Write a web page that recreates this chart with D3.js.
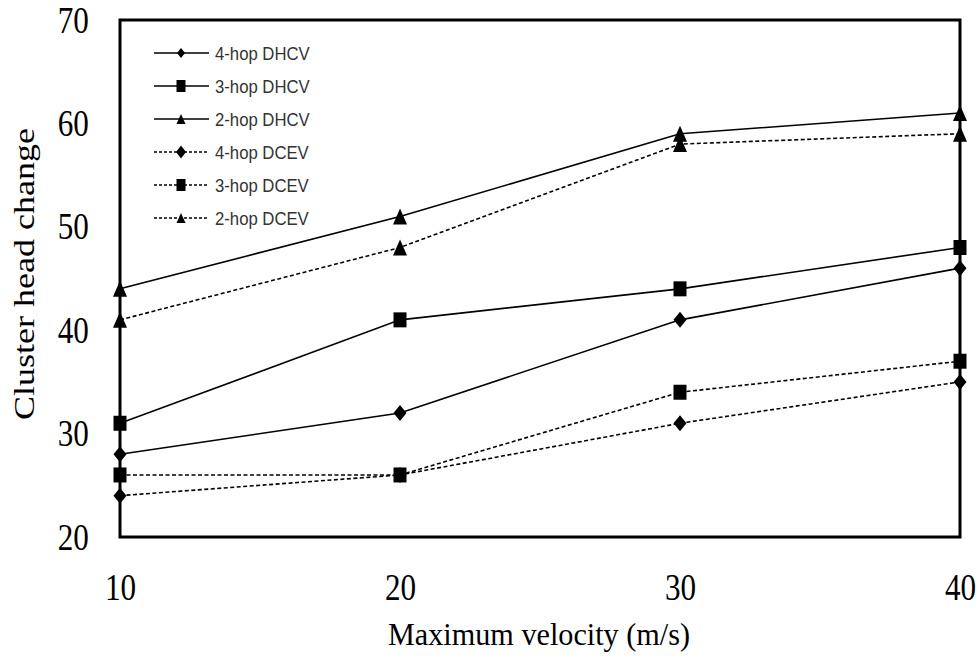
<!DOCTYPE html>
<html>
<head>
<meta charset="utf-8">
<script src="https://cdn.jsdelivr.net/npm/d3@7"></script>
<style>
  body { margin: 0; background: #fff; }
  svg { display: block; }
</style>
</head>
<body>
<svg id="chart"></svg>
<script>
// values
const velocities = [10, 20, 30, 40];
const hop4DHCV = [28, 32, 41, 46];
const hop3DHCV = [31, 41, 44, 48];
const hop2DHCV = [44, 51, 59, 61];
const hop4DCEV = [24, 26, 31, 35];
const hop3DCEV = [26, 26, 34, 37];
const hop2DCEV = [41, 48, 58, 59];
const xTicks = [10, 20, 30, 40];
const yTicks = [20, 30, 40, 50, 60, 70];

const series = [
  { name: "4-hop DHCV", values: hop4DHCV, dashed: false, marker: "diamond" },
  { name: "3-hop DHCV", values: hop3DHCV, dashed: false, marker: "square" },
  { name: "2-hop DHCV", values: hop2DHCV, dashed: false, marker: "triangle" },
  { name: "4-hop DCEV", values: hop4DCEV, dashed: true, marker: "diamond" },
  { name: "3-hop DCEV", values: hop3DCEV, dashed: true, marker: "square" },
  { name: "2-hop DCEV", values: hop2DCEV, dashed: true, marker: "triangle" }
];

const width = 980, height = 657;
const margin = { top: 20, right: 20, bottom: 120, left: 120 };

const svg = d3.select("#chart").attr("width", width).attr("height", height);

const x = d3.scaleLinear().domain([10, 40]).range([margin.left, width - margin.right]);
const y = d3.scaleLinear().domain([20, 70]).range([height - margin.bottom, margin.top]);

// marker shapes, w x h
function markerPath(type, w, h) {
  const a = w / 2, b = h / 2;
  if (type === "diamond") return `M0,${-b}L${a},0L0,${b}L${-a},0Z`;
  if (type === "square") return `M${-a},${-b}H${a}V${b}H${-a}Z`;
  return `M0,${-b}L${a},${b}L${-a},${b}Z`;
}
const markerSize = { diamond: [13, 16], square: [13, 15], triangle: [14, 16] };
const legendSize = {
  diamond: [[8, 10], [10, 13]],
  square: [[9, 12], [9, 12]],
  triangle: [[9, 10], [9, 10]]
};

// y axis
const yAxis = svg.append("g")
  .attr("transform", `translate(${margin.left},0)`)
  .call(d3.axisLeft(y).tickValues(yTicks).tickSize(0).tickPadding(38));
yAxis.select(".domain").remove();
yAxis.selectAll("text")
  .attr("font-family", "'Liberation Serif', 'Times New Roman', serif")
  .attr("font-size", 38)
  .attr("fill", "#000")
  .attr("transform", "scale(0.82,1)");

// x axis
const xAxis = svg.append("g")
  .attr("transform", `translate(0,${height - margin.bottom})`)
  .call(d3.axisBottom(x).tickValues(xTicks).tickSize(0).tickPadding(36));
xAxis.select(".domain").remove();
xAxis.selectAll("text")
  .attr("font-family", "'Liberation Serif', 'Times New Roman', serif")
  .attr("font-size", 38)
  .attr("fill", "#000")
  .attr("transform", "scale(0.82,1)");

// axis titles
svg.append("text")
  .attr("x", 539).attr("y", 645)
  .attr("text-anchor", "middle")
  .attr("font-family", "'Liberation Serif', 'Times New Roman', serif")
  .attr("font-size", 31)
  .attr("textLength", 302)
  .attr("lengthAdjust", "spacingAndGlyphs")
  .text("Maximum velocity (m/s)");

svg.append("text")
  .attr("transform", "translate(34,274) rotate(-90)")
  .attr("text-anchor", "middle")
  .attr("font-family", "'Liberation Serif', 'Times New Roman', serif")
  .attr("font-size", 30)
  .attr("textLength", 292)
  .attr("lengthAdjust", "spacingAndGlyphs")
  .text("Cluster head change");

// lines
const line = d3.line()
  .x((d, i) => x(velocities[i]))
  .y(d => y(d));

svg.append("g").selectAll("path")
  .data(series).enter()
  .append("path")
  .attr("d", d => line(d.values))
  .attr("fill", "none")
  .attr("stroke", "#000")
  .attr("stroke-width", 1.6)
  .attr("stroke-dasharray", d => d.dashed ? "4,2.5" : null);

// frame
svg.append("rect")
  .attr("x", x(10)).attr("y", y(70))
  .attr("width", x(40) - x(10)).attr("height", y(20) - y(70))
  .attr("fill", "none")
  .attr("stroke", "#000")
  .attr("stroke-width", 3);

// markers
series.forEach(s => {
  const [w, h] = markerSize[s.marker];
  svg.append("g").selectAll("path")
    .data(s.values).enter()
    .append("path")
    .attr("transform", (d, i) => `translate(${x(velocities[i])},${y(d)})`)
    .attr("d", markerPath(s.marker, w, h))
    .attr("fill", "#000");
});

// legend
const legend = svg.append("g").selectAll("g")
  .data(series).enter()
  .append("g")
  .attr("transform", (d, i) => `translate(154,${53 + i * 33})`);

legend.append("line")
  .attr("x1", 0).attr("x2", 55)
  .attr("stroke", "#000")
  .attr("stroke-width", 1.3)
  .attr("stroke-dasharray", d => d.dashed ? "3,2" : null);

legend.append("path")
  .attr("transform", "translate(27,0)")
  .attr("d", d => {
    const [w, h] = legendSize[d.marker][d.dashed ? 1 : 0];
    return markerPath(d.marker, w, h);
  })
  .attr("fill", "#000");

legend.append("text")
  .attr("transform", "translate(61,0) scale(0.88,1)")
  .attr("dy", "0.36em")
  .attr("font-family", "'Liberation Sans', Arial, sans-serif")
  .attr("font-size", 19)
  .attr("fill", "#333")
  .text(d => d.name);
</script>
</body>
</html>
